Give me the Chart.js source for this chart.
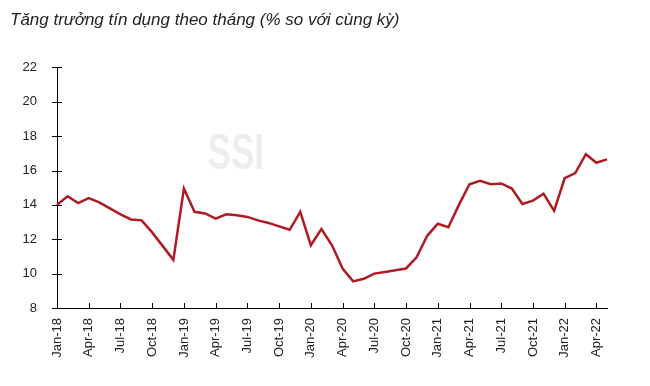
<!DOCTYPE html>
<html lang="vi">
<head>
<meta charset="UTF-8">
<title>Tăng trưởng tín dụng</title>
<style>
  html, body { margin: 0; padding: 0; background: #fff; }
</style>
</head>
<body>
<canvas id="myChart" width="650" height="386"></canvas>
<script src="https://cdn.jsdelivr.net/npm/chart.js"></script>
<script>
  // months Jan-18 .. May-22
  const months = [
    'Jan-18','Feb-18','Mar-18','Apr-18','May-18','Jun-18','Jul-18','Aug-18','Sep-18','Oct-18','Nov-18','Dec-18',
    'Jan-19','Feb-19','Mar-19','Apr-19','May-19','Jun-19','Jul-19','Aug-19','Sep-19','Oct-19','Nov-19','Dec-19',
    'Jan-20','Feb-20','Mar-20','Apr-20','May-20','Jun-20','Jul-20','Aug-20','Sep-20','Oct-20','Nov-20','Dec-20',
    'Jan-21','Feb-21','Mar-21','Apr-21','May-21','Jun-21','Jul-21','Aug-21','Sep-21','Oct-21','Nov-21','Dec-21',
    'Jan-22','Feb-22','Mar-22','Apr-22','May-22'
  ];
  // credit growth, % yoy
  const creditGrowth = [
    14.0, 14.5, 14.1, 14.4, 14.15, 13.8, 13.45, 13.15, 13.1, 12.4, 11.6, 10.8,
    14.95, 13.6, 13.5, 13.2, 13.45, 13.4, 13.3, 13.1, 12.95, 12.75, 12.55, 13.6,
    11.65, 12.6, 11.65, 10.3, 9.55, 9.7, 10.0, 10.1, 10.2, 10.3, 10.95, 12.2,
    12.9, 12.7, 14.0, 15.2, 15.4, 15.2, 15.25, 14.95, 14.05, 14.25, 14.65, 13.65,
    15.55, 15.85, 16.95, 16.45, 16.65
  ];
  const yTicks = [8, 10, 12, 14, 16, 18, 20, 22];
  const labelEvery = 3;

  const FONT = "'Liberation Sans', Arial, sans-serif";

  // tick marks: crossing on y axis, upward on x axis
  const tickMarks = {
    id: 'tickMarks',
    afterDatasetsDraw(chart) {
      const { ctx, chartArea, scales } = chart;
      ctx.save();
      ctx.strokeStyle = '#000';
      ctx.lineWidth = 1;
      ctx.beginPath();
      yTicks.forEach(v => {
        const py = Math.round(scales.y.getPixelForValue(v)) + 0.5;
        ctx.moveTo(chartArea.left - 5, py);
        ctx.lineTo(chartArea.left + 5, py);
      });
      months.forEach((m, i) => {
        if (i % labelEvery !== 0) return;
        const px = Math.round(scales.x.getPixelForValue(i)) + 0.5;
        ctx.moveTo(px, chartArea.bottom);
        ctx.lineTo(px, chartArea.bottom - 5);
      });
      ctx.stroke();
      ctx.restore();
    }
  };

  // faint SSI watermark
  const watermark = {
    id: 'watermark',
    beforeDatasetsDraw(chart) {
      const { ctx, chartArea } = chart;
      const cx = chartArea.left + chartArea.width * 0.325;
      const cy = chartArea.top + chartArea.height * 0.366;
      ctx.save();
      ctx.fillStyle = '#ededed';
      ctx.font = "bold 50px " + FONT;
      ctx.textAlign = 'center';
      ctx.textBaseline = 'middle';
      ctx.translate(cx, cy);
      ctx.scale(0.7, 1);
      ctx.fillText('SSI', 0, 0);
      ctx.restore();
    }
  };

  new Chart(document.getElementById('myChart'), {
    type: 'line',
    data: {
      labels: months,
      datasets: [{
        data: creditGrowth,
        borderColor: '#b01a22',
        borderWidth: 2.5,
        pointRadius: 0,
        tension: 0,
        fill: false
      }]
    },
    options: {
      responsive: false,
      animation: false,
      layout: { padding: { left: 10, right: 43, top: 0, bottom: 0 } },
      plugins: {
        legend: { display: false },
        tooltip: { enabled: false },
        title: {
          display: true,
          text: 'Tăng trưởng tín dụng theo tháng (% so với cùng kỳ)',
          align: 'start',
          color: '#222',
          font: { family: FONT, size: 17, style: 'italic', weight: 'normal' },
          padding: { top: 10, bottom: 37 }
        }
      },
      scales: {
        x: {
          offset: false,
          afterFit: s => { s.height = 78; },
          grid: { display: false, drawTicks: false },
          border: { display: true, color: '#000', width: 1 },
          ticks: {
            autoSkip: false,
            maxRotation: 90,
            minRotation: 90,
            padding: 10,
            color: '#222',
            font: { family: FONT, size: 13 },
            callback: function (val, i) { return i % labelEvery === 0 ? months[i] : null; }
          }
        },
        y: {
          min: 8,
          max: 22,
          afterFit: s => { s.width = 47; },
          afterBuildTicks: s => { s.ticks = yTicks.map(v => ({ value: v })); },
          grid: { display: false, drawTicks: false },
          border: { display: true, color: '#000', width: 1 },
          ticks: {
            padding: 20,
            color: '#222',
            font: { family: FONT, size: 13 }
          }
        }
      }
    },
    plugins: [watermark, tickMarks]
  });
</script>
</body>
</html>
